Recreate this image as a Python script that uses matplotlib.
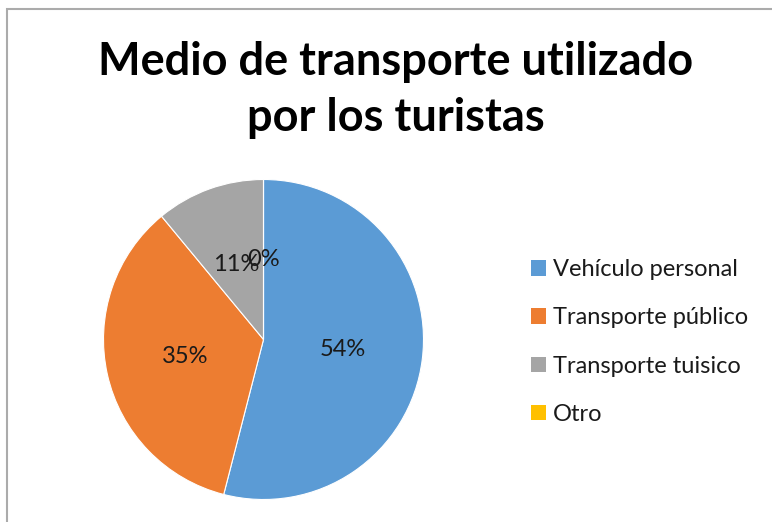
import matplotlib.pyplot as plt
from matplotlib.patches import Rectangle

# Datos: medio de transporte de los turistas (%)
categorias = ["Vehículo personal", "Transporte público", "Transporte tuisico", "Otro"]
porcentajes = [54, 35, 11, 0]
colores = ["#5B9BD5", "#ED7D31", "#A5A5A5", "#FFC000"]

plt.rcParams["font.family"] = ["Lato", "DejaVu Sans"]

W, H = 772, 522
fig = plt.figure(figsize=(W / 100, H / 100), dpi=100)

# marco gris del gráfico
fig.add_artist(Rectangle((7 / W, -1), 2, 1 - 9 / H + 1, transform=fig.transFigure,
                         fill=False, edgecolor="#ABABAB", linewidth=1.5))

fig.text(396 / W, 1 - 62 / H, "Medio de transporte utilizado",
         ha="center", va="center", fontsize=32.5, fontweight="bold")
fig.text(396 / W, 1 - 118 / H, "por los turistas",
         ha="center", va="center", fontsize=32.5, fontweight="bold")

cx, cy, r = 263.5, 339.5, 160
ax = fig.add_axes([(cx - r) / W, (H - cy - r) / H, 2 * r / W, 2 * r / H])
wedges, textos, autotextos = ax.pie(
    porcentajes, colors=colores, startangle=90, counterclock=False,
    autopct="%.0f%%", pctdistance=0.5,
    wedgeprops=dict(edgecolor="white", linewidth=0.8),
    textprops=dict(fontsize=17, color="#1a1a1a"))
ax.set_xlim(-1, 1)
ax.set_ylim(-1, 1)
ax.set_aspect("equal")
ax.axis("off")

leg = fig.legend(wedges, categorias, loc="center left",
                 bbox_to_anchor=(510 / W, 1 - 342 / H),
                 frameon=False, fontsize=17, handlelength=0.62, handleheight=0.62,
                 handletextpad=0.3, labelspacing=1.15)
for t in leg.get_texts():
    t.set_color("#1a1a1a")
for h in leg.legend_handles:
    h.set_edgecolor("none")

fig.savefig("out.png", dpi=100)
